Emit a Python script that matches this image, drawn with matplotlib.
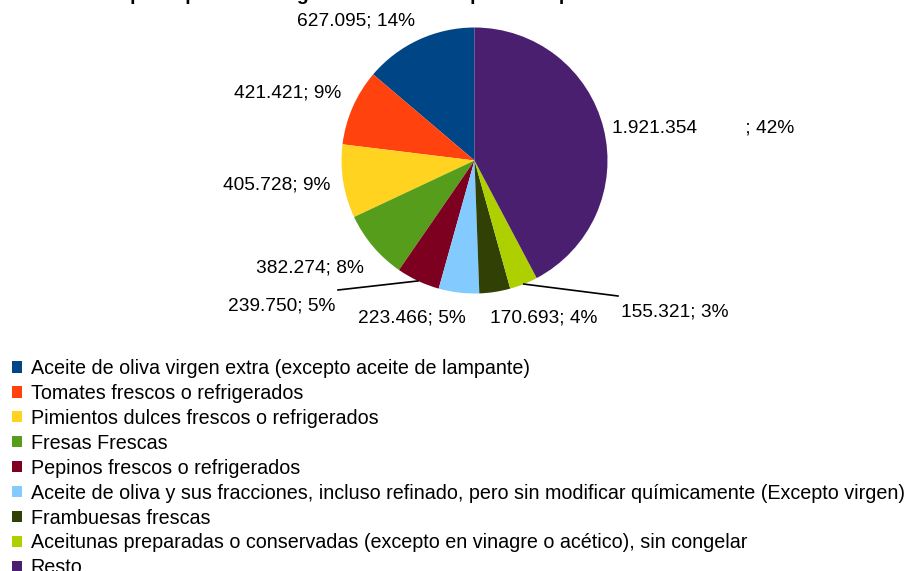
import numpy as np
import matplotlib
matplotlib.use('Agg')
import matplotlib.pyplot as plt

plt.rcParams['font.family'] = ['Liberation Sans', 'DejaVu Sans']

# data
productos = [
    'Aceite de oliva virgen extra (excepto aceite de lampante)',
    'Tomates frescos o refrigerados',
    'Pimientos dulces frescos o refrigerados',
    'Fresas Frescas',
    'Pepinos frescos o refrigerados',
    'Aceite de oliva y sus fracciones, incluso refinado, pero sin modificar químicamente (Excepto virgen)',
    'Frambuesas frescas',
    'Aceitunas preparadas o conservadas (excepto en vinagre o acético), sin congelar',
    'Resto',
]
valores = [627095, 421421, 405728, 382274, 239750, 223466, 170693, 155321, 1921354]
colores = ['#004586', '#ff420e', '#ffd320', '#579d1c', '#7e0021',
           '#83caff', '#314004', '#aecf00', '#4b1f6f']

W, H = 906, 571
# label centre positions in pixels (layout only)
label_pos = [(356, 21), (288, 93), (277, 185), (310, 268), (282, 306),
             (412, 318), (544, 318), (675, 312), (703, 128)]
leader = [False, False, False, False, True, False, False, True, False]


def py(y):
    return H - y


def fmt_miles(v):
    return '{:,}'.format(v).replace(',', '.')


fig = plt.figure(figsize=(W / 100, H / 100), dpi=100)
ax = fig.add_axes([0, 0, 1, 1])

cx, cy, r = 474.5, 160.5, 133
wedges, _ = ax.pie(valores, colors=colores, startangle=90, counterclock=True,
                   center=(cx, py(cy)), radius=r,
                   wedgeprops=dict(linewidth=0))
ax.set_xlim(0, W)
ax.set_ylim(0, H)
ax.set_aspect('equal')
ax.axis('off')

total = float(sum(valores))
for i, (w, v) in enumerate(zip(wedges, valores)):
    pct = int(round(100 * v / total))
    if productos[i] == 'Resto':
        txt = fmt_miles(v) + '         ; %d%%' % pct
    else:
        txt = fmt_miles(v) + '; %d%%' % pct
    lx, ly = label_pos[i]
    ax.text(lx, py(ly), txt, ha='center', va='center', fontsize=13.8, color='black')
    if leader[i]:
        ang = np.deg2rad((w.theta1 + w.theta2) / 2)
        px = cx + r * np.cos(ang)
        pyy = py(cy) + r * np.sin(ang)
        if lx < cx:
            ex, ey = lx + 56, py(ly - 16)
        else:
            ex, ey = lx - 57, py(ly - 16)
        ax.plot([px, ex], [pyy, ey], color='black', linewidth=1.2)

# title cut at the top of the picture
fig.text(0.5, 1 + 5 / H, 'Principales productos agroalimentarios exportados por Andalucía al Reino Unido',
         ha='center', va='center', fontsize=14, fontweight='bold')

fig.legend(wedges, productos, loc='upper left', bbox_to_anchor=(12 / W, 1 - 359 / H),
           frameon=False, fontsize=14.2, handlelength=0.5, handleheight=0.5,
           handletextpad=0.45, labelspacing=0.3, borderpad=0, borderaxespad=0)

fig.savefig('out.png', dpi=100)
